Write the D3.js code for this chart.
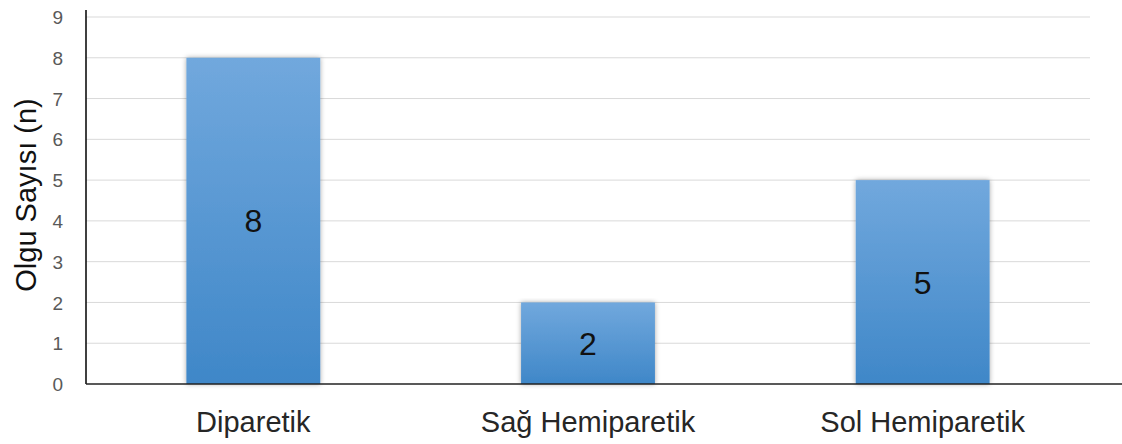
<!DOCTYPE html>
<html>
<head>
<meta charset="utf-8">
<script src="https://cdn.jsdelivr.net/npm/d3@7"></script>
<style>
  body { margin: 0; background: #fff; }
  text { font-family: "Liberation Sans", Arial, sans-serif; }
</style>
</head>
<body>
<svg width="1122" height="444"></svg>
<script>
const categories = ['Diparetik', 'Sağ Hemiparetik', 'Sol Hemiparetik'];
const counts = [8, 2, 5];
const yTicks = [0, 1, 2, 3, 4, 5, 6, 7, 8, 9];
const yTitle = 'Olgu Sayısı (n)';

const data = categories.map((c, i) => ({ cat: c, n: counts[i] }));

const svg = d3.select('svg');
const margin = { top: 17, bottom: 60, left: 86, right: 32 };
const innerWidth = 1122 - margin.left - margin.right;
const baseY = 384;

const defs = svg.append('defs');
const grad = defs.append('linearGradient')
  .attr('id', 'barGrad')
  .attr('x1', 0).attr('y1', 0).attr('x2', 0).attr('y2', 1);
grad.append('stop').attr('offset', '0%').attr('stop-color', '#71a8dd');
grad.append('stop').attr('offset', '100%').attr('stop-color', '#3f87c8');

const shadow = defs.append('filter').attr('id', 'shadow')
  .attr('x', '-10%').attr('y', '-5%').attr('width', '120%').attr('height', '110%');
shadow.append('feDropShadow')
  .attr('dx', 0).attr('dy', 0).attr('stdDeviation', 2.5)
  .attr('flood-color', '#000').attr('flood-opacity', 0.35);

const xScale = d3.scaleBand()
  .domain(categories)
  .range([margin.left, margin.left + innerWidth])
  .paddingInner(0.6)
  .paddingOuter(0.3);

const yScale = d3.scaleLinear()
  .domain([0, 9])
  .range([baseY, margin.top]);

// gridlines
svg.append('g')
  .selectAll('line')
  .data(yTicks.filter(t => t > 0))
  .join('line')
  .attr('x1', margin.left)
  .attr('x2', 1090)
  .attr('y1', d => yScale(d))
  .attr('y2', d => yScale(d))
  .attr('stroke', '#d9d9d9')
  .attr('stroke-width', 1);

// y axis labels
const yAxis = d3.axisLeft(yScale).tickValues(yTicks).tickSize(0).tickPadding(23);
const yAxisG = svg.append('g')
  .attr('transform', `translate(${margin.left},0)`)
  .call(yAxis);
yAxisG.select('.domain').remove();
yAxisG.selectAll('text')
  .attr('fill', '#595959')
  .style('font-size', '19px')
  .attr('dy', '0.35em');

// bars
svg.append('g')
  .selectAll('rect')
  .data(data)
  .join('rect')
  .attr('x', d => xScale(d.cat))
  .attr('y', d => yScale(d.n))
  .attr('width', xScale.bandwidth())
  .attr('height', d => baseY - yScale(d.n))
  .attr('fill', 'url(#barGrad)')
  .attr('filter', 'url(#shadow)');

// value labels
svg.append('g')
  .selectAll('text')
  .data(data)
  .join('text')
  .attr('x', d => xScale(d.cat) + xScale.bandwidth() / 2)
  .attr('y', d => (yScale(d.n) + baseY) / 2)
  .attr('dy', '0.36em')
  .attr('text-anchor', 'middle')
  .attr('fill', '#111')
  .style('font-size', '32px')
  .text(d => d.n);

// axis lines
svg.append('line')
  .attr('x1', margin.left).attr('x2', margin.left)
  .attr('y1', 10).attr('y2', baseY)
  .attr('stroke', '#000').attr('stroke-width', 1.5);
svg.append('line')
  .attr('x1', margin.left).attr('x2', 1122)
  .attr('y1', baseY).attr('y2', baseY)
  .attr('stroke', '#222').attr('stroke-width', 1.5);

// category labels
svg.append('g')
  .selectAll('text')
  .data(categories)
  .join('text')
  .attr('x', d => xScale(d) + xScale.bandwidth() / 2)
  .attr('y', 432)
  .attr('text-anchor', 'middle')
  .attr('fill', '#262626')
  .style('font-size', '29px')
  .text(d => d);

// y title
svg.append('text')
  .attr('transform', 'translate(36,195) rotate(-90)')
  .attr('text-anchor', 'middle')
  .attr('fill', '#111')
  .style('font-size', '29px')
  .text(yTitle);
</script>
</body>
</html>
